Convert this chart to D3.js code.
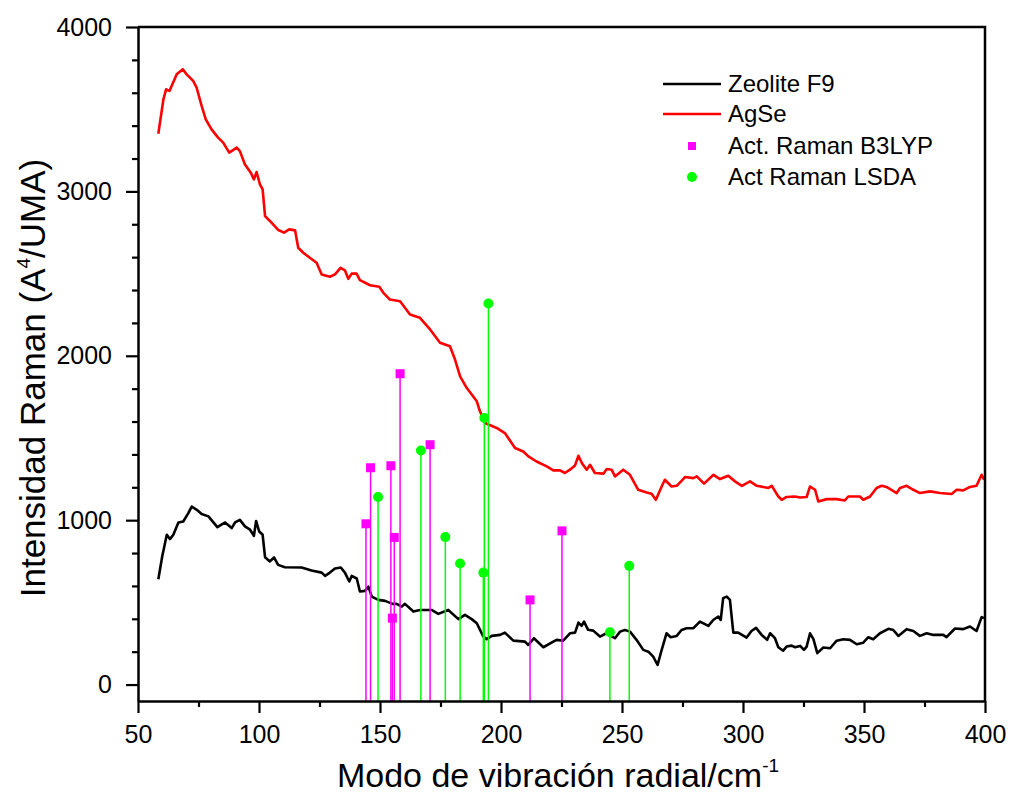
<!DOCTYPE html>
<html>
<head>
<meta charset="utf-8">
<script src="https://cdn.jsdelivr.net/npm/d3@7"></script>
<style>
  body { margin: 0; background: #fff; }
  svg text { font-family: "Liberation Sans", Arial, sans-serif; }
</style>
</head>
<body>
<svg width="1011" height="796"></svg>
<script>
// Espectro Zeolite F9 (cm-1, intensidad)
const zeolite = [
  [58.4,641],[60.0,779],[61.9,911],[63.2,885],[64.6,911],[66.7,986],[68.7,992],[70.8,1043],
  [72.2,1083],[74.3,1063],[76.3,1037],[79.1,1023],[82.8,958],[86.0,986],[88.7,952],[90.1,986],
  [92.1,1002],[94.2,962],[96.3,942],[97.9,905],[98.8,995],[100.1,931],[101.5,911],[102.5,775],
  [104.5,749],[106.2,773],[107.9,728],[110.7,714],[117.6,712],[121.7,694],[125.9,681],[127.3,661],
  [129.3,681],[131.4,706],[133.8,712],[135.5,681],[137.3,627],[138.3,661],[140.4,645],[141.7,566],
  [143.8,570],[145.2,596],[146.6,535],[149.3,515],[152.1,509],[155.2,491],[156.9,491],[159.0,474],
  [160.3,491],[163.8,444],[166.5,454],[171.3,454],[174.1,430],[178.2,454],[182.4,398],[185.1,424],
  [187.9,398],[190.0,373],[192.7,292],[194.1,276],[196.2,296],[199.6,302],[201.6,316],[205.1,267],
  [209.9,261],[211.3,241],[213.6,282],[217.5,227],[221.6,261],[223.0,272],[225.7,267],[228.5,312],
  [230.6,316],[232.0,377],[233.3,357],[234.3,383],[236.0,333],[238.1,328],[240.9,292],[243.6,312],
  [247.1,282],[249.2,322],[251.2,332],[253.3,322],[256.0,272],[258.8,211],[260.9,200],[262.9,170],
  [264.7,119],[266.4,211],[268.4,312],[270.1,288],[272.6,296],[274.6,332],[276.7,343],[279.5,343],
  [282.2,383],[285.7,357],[287.7,393],[289.8,414],[290.8,393],[291.8,526],[293.3,535],[294.6,515],
  [296.0,316],[298.0,316],[301.5,286],[303.5,326],[305.4,345],[307.7,302],[310.0,272],[311.2,312],
  [313.2,282],[314.6,227],[316.6,206],[318.0,231],[320.1,237],[321.5,227],[323.6,235],[325.2,211],
  [326.3,231],[327.7,312],[329.1,276],[330.7,191],[333.2,225],[336.0,221],[338.7,267],[341.5,276],
  [344.2,272],[347.0,245],[349.7,255],[351.8,288],[353.8,276],[356.6,312],[360.1,339],[362.1,332],
  [364.2,296],[367.6,337],[370.4,326],[373.1,296],[375.9,312],[378.6,302],[382.8,302],[384.1,288],
  [387.6,341],[391.0,337],[393.8,353],[396.5,326],[398.6,410],[399.6,404]
];

// Espectro AgSe
const agse = [
  [58.4,3351],[60.5,3560],[61.6,3621],[63.0,3611],[66.0,3712],[68.5,3743],[70.1,3712],[72.8,3672],
  [74.2,3632],[76.3,3520],[78.0,3438],[80.4,3377],[83.1,3327],[85.2,3297],[87.7,3236],[90.8,3266],
  [92.1,3245],[94.2,3164],[96.6,3114],[97.9,3073],[99.0,3118],[100.4,3043],[101.5,3012],[102.5,2850],
  [104.5,2820],[108.0,2765],[110.3,2749],[112.5,2769],[114.9,2763],[116.2,2657],[118.3,2627],[121.0,2596],
  [123.8,2566],[125.9,2495],[129.3,2481],[131.4,2495],[133.7,2535],[135.5,2520],[136.9,2468],[138.3,2500],
  [140.3,2500],[141.7,2460],[145.9,2429],[149.7,2420],[151.4,2383],[154.1,2342],[158.3,2332],[162.4,2251],
  [166.5,2231],[170.7,2160],[174.8,2079],[178.9,2058],[181.0,1977],[183.1,1875],[185.8,1805],[190.0,1723],
  [191.3,1662],[193.4,1591],[198.2,1561],[201.6,1530],[205.8,1439],[209.2,1418],[211.3,1388],[214.7,1357],
  [218.9,1327],[221.6,1303],[224.4,1303],[226.4,1287],[228.5,1307],[230.6,1333],[232.0,1392],[233.4,1348],
  [235.4,1307],[236.8,1337],[238.8,1287],[242.3,1283],[243.7,1311],[245.7,1307],[247.1,1266],[250.5,1307],
  [253.3,1276],[256.7,1185],[260.2,1169],[262.2,1161],[264.0,1124],[266.4,1205],[267.7,1246],[270.5,1205],
  [272.6,1209],[275.3,1250],[276.0,1263],[279.5,1256],[280.9,1266],[283.9,1222],[287.8,1276],[290.5,1250],
  [293.9,1270],[296.7,1236],[299.5,1209],[302.9,1236],[305.7,1209],[310.5,1196],[311.9,1209],[314.6,1144],
  [316.0,1124],[318.0,1141],[321.4,1144],[323.6,1138],[326.3,1141],[327.7,1205],[329.8,1185],[331.1,1114],
  [334.6,1128],[338.7,1128],[342.1,1120],[343.5,1144],[348.3,1144],[349.7,1124],[352.5,1144],[355.2,1196],
  [357.3,1209],[359.3,1202],[363.5,1165],[364.9,1196],[367.6,1209],[370.4,1185],[373.1,1165],[377.3,1175],
  [381.4,1165],[386.2,1159],[388.3,1185],[391.0,1181],[393.8,1202],[396.5,1209],[398.6,1276],[399.6,1246]
];

// Actividades Raman calculadas
const b3lypX = [144.2, 146.1, 154.5, 155.1, 155.9, 158.3, 170.7, 212.0, 225.2];
const b3lypY = [978, 1319, 1331, 404, 895, 1891, 1459, 515, 935];
const lsdaX = [149.2, 166.9, 177.0, 183.1, 192.7, 193.1, 194.8, 245.0, 253.0];
const lsdaY = [1141, 1424, 897, 736, 681, 1622, 2318, 318, 722];

const xMajor = [50, 100, 150, 200, 250, 300, 350, 400];
const xMinor = [75, 125, 175, 225, 275, 325, 375];
const yMajor = [0, 1000, 2000, 3000, 4000];
const yMinor = [200, 400, 600, 800, 1200, 1400, 1600, 1800, 2200, 2400, 2600, 2800, 3200, 3400, 3600, 3800];

const svg = d3.select("svg");
const mLeft = 138, mRight = 985, mTop = 27, mBottom = 701;

const x = d3.scaleLinear().domain([50, 400]).range([mLeft, mRight]);
const y = d3.scaleLinear().domain([-100, 4000]).range([mBottom, mTop]);

// Curvas
const line = d3.line().x(d => x(d[0])).y(d => y(d[1]));

svg.append("path").datum(zeolite)
  .attr("d", line).attr("fill", "none")
  .attr("stroke", "#000").attr("stroke-width", 2.6).attr("stroke-linejoin", "round");

svg.append("path").datum(agse)
  .attr("d", line).attr("fill", "none")
  .attr("stroke", "#ff0000").attr("stroke-width", 2.6).attr("stroke-linejoin", "round");

// Barras (lineas verticales) + marcadores
const b3lyp = b3lypX.map((v, i) => ({ x: v, y: b3lypY[i] }));
const lsda = lsdaX.map((v, i) => ({ x: v, y: lsdaY[i] }));

svg.selectAll("line.b3")
  .data(b3lyp).join("line").attr("class", "b3")
  .attr("x1", d => x(d.x)).attr("x2", d => x(d.x))
  .attr("y1", y(-100)).attr("y2", d => y(d.y))
  .attr("stroke", "#ff00ff").attr("stroke-width", 1.5);

svg.selectAll("line.ls")
  .data(lsda).join("line").attr("class", "ls")
  .attr("x1", d => x(d.x)).attr("x2", d => x(d.x))
  .attr("y1", y(-100)).attr("y2", d => y(d.y))
  .attr("stroke", "#00ff00").attr("stroke-width", 1.5);

svg.selectAll("rect.b3")
  .data(b3lyp).join("rect").attr("class", "b3")
  .attr("x", d => x(d.x) - 4.5).attr("y", d => y(d.y) - 4.5)
  .attr("width", 9).attr("height", 9)
  .attr("fill", "#ff00ff");

svg.selectAll("circle.ls")
  .data(lsda).join("circle").attr("class", "ls")
  .attr("cx", d => x(d.x)).attr("cy", d => y(d.y))
  .attr("r", 5)
  .attr("fill", "#00ff00");

// Ejes
const gx = svg.append("g").attr("transform", `translate(0,${mBottom})`);
gx.call(d3.axisBottom(x).tickValues(xMajor).tickFormat(d3.format("d"))
  .tickSize(12).tickSizeOuter(0).tickPadding(12));
gx.append("g").call(d3.axisBottom(x).tickValues(xMinor).tickSize(6).tickFormat(""))
  .select(".domain").remove();

const gy = svg.append("g").attr("transform", `translate(${mLeft},0)`);
gy.call(d3.axisLeft(y).tickValues(yMajor).tickFormat(d3.format("d"))
  .tickSize(12).tickSizeOuter(0).tickPadding(14));
gy.append("g").call(d3.axisLeft(y).tickValues(yMinor).tickSize(6).tickFormat(""))
  .select(".domain").remove();

svg.selectAll(".domain").attr("stroke", "#000").attr("stroke-width", 2.5);
svg.selectAll(".tick line").attr("stroke", "#000").attr("stroke-width", 2.2);
svg.selectAll(".tick text").attr("font-size", 25).attr("fill", "#000")
  .attr("font-family", "Liberation Sans, Arial, sans-serif");

// Marco superior y derecho
svg.append("path")
  .attr("d", `M${mLeft},${mTop}H${mRight}V${mBottom}`)
  .attr("fill", "none").attr("stroke", "#000").attr("stroke-width", 2.5);

// Titulos de ejes
const xt = svg.append("text")
  .attr("x", 558).attr("y", 787)
  .attr("text-anchor", "middle").attr("font-size", 34);
xt.append("tspan").text("Modo de vibración radial/cm");
xt.append("tspan").attr("font-size", 19).attr("dy", -15).text("-1");

const yt = svg.append("text")
  .attr("transform", "translate(45,378) rotate(-90)")
  .attr("text-anchor", "middle").attr("font-size", 35);
yt.append("tspan").text("Intensidad Raman (A");
yt.append("tspan").attr("font-size", 19).attr("dy", -15).text("4");
yt.append("tspan").attr("dy", 15).text("/UMA)");

// Leyenda
const legend = [
  { label: "Zeolite F9", type: "line", color: "#000" },
  { label: "AgSe", type: "line", color: "#ff0000" },
  { label: "Act. Raman B3LYP", type: "square", color: "#ff00ff" },
  { label: "Act Raman LSDA", type: "circle", color: "#00ff00" }
];
const legY = [84, 114, 146, 177];

const lg = svg.append("g");
legend.forEach((d, i) => {
  const cy = legY[i];
  if (d.type === "line") {
    lg.append("line").attr("x1", 663).attr("x2", 721).attr("y1", cy).attr("y2", cy)
      .attr("stroke", d.color).attr("stroke-width", 2.6);
  } else if (d.type === "square") {
    lg.append("rect").attr("x", 688).attr("y", cy - 4).attr("width", 8).attr("height", 8)
      .attr("fill", d.color);
  } else {
    lg.append("circle").attr("cx", 692).attr("cy", cy).attr("r", 5).attr("fill", d.color);
  }
  lg.append("text").attr("x", 728).attr("y", cy).attr("dy", "0.35em")
    .attr("font-size", 24).text(d.label);
});
</script>
</body>
</html>
